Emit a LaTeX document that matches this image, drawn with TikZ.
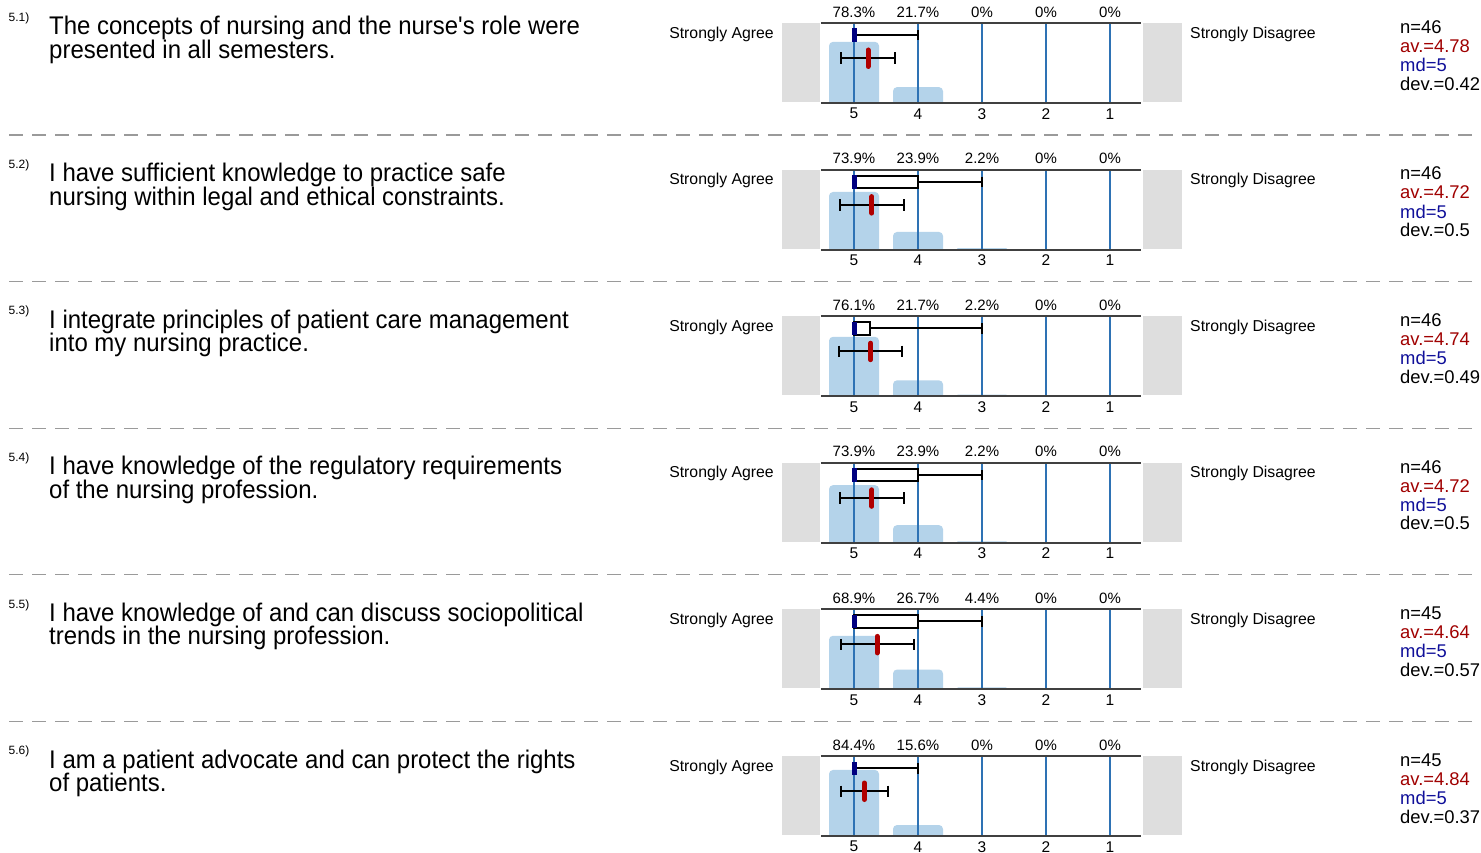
\documentclass[tikz,border=0pt]{standalone}
\usepackage{fontspec}
\setmainfont{Liberation Sans}
\newfontfamily\qfont{Liberation Sans}[FakeStretch=0.94]
\definecolor{panelgray}{HTML}{DEDEDE}
\definecolor{barblue}{HTML}{B4D3EA}
\definecolor{gridblue}{HTML}{2E72B4}
\definecolor{axisgray}{HTML}{404040}
\definecolor{mednavy}{HTML}{000080}
\definecolor{meanred}{HTML}{B00000}
\definecolor{avred}{HTML}{A00000}
\definecolor{mdblue}{HTML}{10109A}
\definecolor{sepgray}{HTML}{9A9A9A}
\tikzset{
  gridline/.style={draw=gridblue, line width=1.3pt},
  axisline/.style={draw=axisgray, line width=2pt},
  whisk/.style={draw=black, line width=2pt},
  boxline/.style={draw=black, line width=2pt, fill=white},
  pct/.style={font=\fontsize{15}{16}\selectfont, inner sep=0pt},
  axnum/.style={font=\fontsize{15.5}{16}\selectfont, inner sep=0pt},
  scalelbl/.style={font=\fontsize{15.8}{18}\selectfont, inner sep=0pt},
  stat/.style={font=\fontsize{18.4}{18}\selectfont, inner sep=0pt, anchor=west},
  qnum/.style={font=\fontsize{12}{12}\selectfont, inner sep=0pt, anchor=west},
  qtext/.style={font=\qfont\fontsize{25.5}{25.5}\selectfont, inner sep=0pt, anchor=base west},
  sepline/.style={draw=sepgray, line width=1.2pt, dash pattern=on 13.5pt off 9.5pt},
  meanbar/.style={draw=meanred, line width=5pt, line cap=round},
}
\begin{document}
\begin{tikzpicture}[x=1pt,y=-1pt]
\useasboundingbox (0,0) rectangle (1481,853);
\fill[white] (0,0) rectangle (1481,853);
\foreach \r/\num/\la/\lb/\pa/\pb/\pc/\n/\av/\dev/\q/\w in {
 0/5.1/{The concepts of nursing and the nurse's role were}/{presented in all semesters.}/78.3/21.7/0/46/4.78/0.42/5/4,
 1/5.2/{I have sufficient knowledge to practice safe}/{nursing within legal and ethical constraints.}/73.9/23.9/2.2/46/4.72/0.5/4/3,
 2/5.3/{I integrate principles of patient care management}/{into my nursing practice.}/76.1/21.7/2.2/46/4.74/0.49/4.75/3,
 3/5.4/{I have knowledge of the regulatory requirements}/{of the nursing profession.}/73.9/23.9/2.2/46/4.72/0.5/4/3,
 4/5.5/{I have knowledge of and can discuss sociopolitical}/{trends in the nursing profession.}/68.9/26.7/4.4/45/4.64/0.57/4/3,
 5/5.6/{I am a patient advocate and can protect the rights}/{of patients.}/84.4/15.6/0/45/4.84/0.37/5/4}
{
 \pgfmathsetmacro\oy{\r*146.6}
 \begin{scope}[shift={(0,\oy)}]
  % question
  \node[qnum] (num\r) at (8.5,18.5) {\num)};
  \node[qtext] (qa\r) at (49,35) {\la};
  \node[qtext] (qb\r) at (49,58.5) {\lb};
  % side panels
  \fill[panelgray] (782,23) rectangle (820,102);
  \fill[panelgray] (1143,23) rectangle (1182,102);
  % bars
  \foreach \k/\p in {0/\pa,1/\pb,2/\pc}{
    \ifdim\p pt>0pt
      \pgfmathsetmacro\h{max(0.8*\p-1.5,1.5)}
      \pgfmathsetmacro\rr{min(4,\h/2)}
      \pgfmathsetmacro\cx{854+64*\k}
      \fill[barblue] ({\cx-25},103) [rounded corners=\rr pt] -- ({\cx-25},{103-\h}) -- ({\cx+25},{103-\h}) [sharp corners] -- ({\cx+25},103) -- cycle;
    \fi
  }
  % grid lines
  \foreach \k in {0,...,4}{
    \draw[gridline] ({854+64*\k},23) -- ({854+64*\k},103);
  }
  % box plot
  \pgfmathsetmacro\wx{854+(5-\w)*64}
  \pgfmathsetmacro\qx{854+(5-\q)*64}
  \draw[whisk] (\qx,35) -- (\wx,35);
  \draw[whisk] (\wx,30) -- (\wx,40.5);
  \ifdim\q pt<5pt
    \draw[boxline] (854,29) rectangle (\qx,41.5);
  \fi
  \fill[mednavy] (852,28.5) rectangle (857,42);
  % mean and deviation
  \pgfmathsetmacro\mx{854+(5-\av)*64}
  \pgfmathsetmacro\lo{854+(5-\av-\dev)*64}
  \pgfmathsetmacro\hi{854+(5-\av+\dev)*64}
  \draw[whisk] (\lo,58) -- (\hi,58);
  \draw[whisk] (\lo,52.5) -- (\lo,64);
  \draw[whisk] (\hi,52.5) -- (\hi,64);
  \draw[meanbar] (\mx,50) -- (\mx,66.5);
  % axis lines
  \draw[axisline] (821,23) -- (1141,23);
  \draw[axisline] (821,103) -- (1141,103);
  % percentages
  \node[pct] (p5\r) at (854,12) {\pa\%};
  \node[pct] (p4\r) at (918,12) {\pb\%};
  \node[pct] (p3\r) at (982,12) {\pc\%};
  \node[pct] (p2\r) at (1046,12) {0\%};
  \node[pct] (p1\r) at (1110,12) {0\%};
  % axis numbers
  \foreach \k in {0,...,4}{
    \pgfmathtruncatemacro\v{5-\k}
    \node[axnum] (ax\r\k) at ({854+64*\k},113.7) {\v};
  }
  % scale labels
  \node[scalelbl, anchor=east] (sa\r) at (774,34) {Strongly Agree};
  \node[scalelbl, anchor=west] (sd\r) at (1190,34) {Strongly Disagree};
  % stats
  \node[stat] (n\r) at (1400,27) {n=\n};
  \node[stat, text=avred] (av\r) at (1400,46) {av.=\av};
  \node[stat, text=mdblue] (md\r) at (1400,65) {md=5};
  \node[stat] (dv\r) at (1400,83.5) {dev.=\dev};
  % separator
  \ifnum\r<5
    \draw[sepline] (9,135) -- (1476,135);
  \fi
 \end{scope}
}
\end{tikzpicture}
\end{document}
